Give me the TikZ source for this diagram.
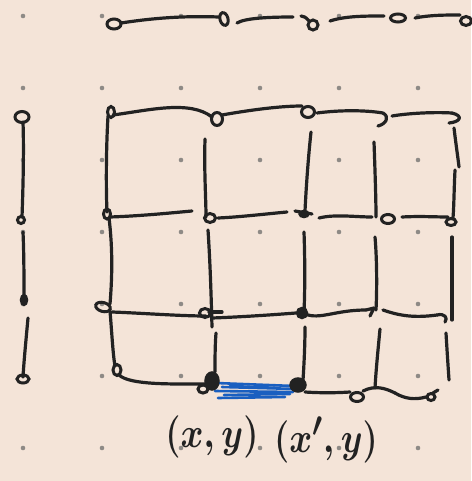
\documentclass[tikz,border=0pt]{standalone}
\usetikzlibrary{calc}
\definecolor{paper}{HTML}{F4E4D8}
\definecolor{inkc}{HTML}{222222}
\definecolor{dotc}{HTML}{8E8A86}
\definecolor{bluec}{HTML}{1A5FC0}
\newcommand{\biglabel}[1]{\scalebox{1.4}[1.7]{\Huge\boldmath #1}}
\tikzset{
  ink/.style={draw=inkc, line width=3.2pt, line cap=round, line join=round},
  loopmark/.style={draw=inkc, line width=3pt},
  blob/.style={fill=inkc, draw=inkc, line width=1.5pt},
  bluestroke/.style={draw=bluec, line width=2.6pt, line cap=round},
  griddot/.style={fill=dotc},
  coordlabel/.style={text=inkc, inner sep=0pt}
}
\begin{document}
\begin{tikzpicture}[x=1pt,y=-1pt]
  % paper and dotted grid
  \fill[paper] (0,0) rectangle (471,481);
  \useasboundingbox (0,0) rectangle (471,481);
  \foreach \gx in {23,102,181,260,339,418}
    \foreach \gy in {16,88,160,232,304,376,448}
      \fill[griddot] (\gx,\gy) circle (2.3);

  % top row of points
  \draw[loopmark] (114,24) ellipse (7 and 5);
  \draw[ink] (121,23) .. controls (160,17) and (190,16) .. (219,17);
  \draw[loopmark, rotate around={15:(224,19)}] (224,19) ellipse (4 and 6.5);
  \draw[ink] (237,23) .. controls (245,18) and (270,17) .. (293,17);
  \draw[loopmark] (313,25) circle (5);
  \draw[ink] (309,21) .. controls (306,17) and (303,16) .. (301,16);
  \draw[ink] (330,21) .. controls (345,16) and (365,16) .. (384,16);
  \draw[loopmark] (398,18) ellipse (7.5 and 4);
  \draw[ink] (415,18) .. controls (430,15) and (445,15) .. (460,15);
  \draw[loopmark] (466,21) ellipse (5.5 and 4.5);

  % left column of points
  \draw[loopmark] (22,117) ellipse (7 and 5.5);
  \draw[ink] (23,122) .. controls (24,150) and (23,190) .. (22,217);
  \draw[loopmark] (21,220) circle (3.5);
  \draw[ink] (23,232) .. controls (24,255) and (24,280) .. (24,296);
  \draw[blob] (24,300) ellipse (3.5 and 5.5);
  \draw[ink] (28,318) .. controls (26,340) and (24,360) .. (23,377);
  \draw[loopmark] (23,379) ellipse (6 and 4);

  % grid: row 1
  \draw[loopmark] (111,112) ellipse (3.5 and 5.5);
  \draw[ink] (113,115) .. controls (150,110) and (190,100) .. (212,117);
  \draw[loopmark] (217,119) ellipse (5.5 and 6.5);
  \draw[ink] (222,115) .. controls (250,110) and (280,106) .. (302,106);
  \draw[loopmark] (308,112) ellipse (6.5 and 5.5);
  \draw[ink] (317,113) .. controls (340,110) and (365,110) .. (383,113);
  \draw[ink] (383,113) .. controls (390,117) and (386,124) .. (378,126);
  \draw[ink] (392,116) .. controls (410,113) and (435,112) .. (452,113);
  \draw[ink] (452,113) .. controls (464,116) and (460,122) .. (449,123);

  % grid: row 2
  \draw[loopmark] (107,214) ellipse (3.5 and 5);
  \draw[ink] (110,217) .. controls (140,216) and (170,213) .. (192,211);
  \draw[loopmark] (210,218) ellipse (5.5 and 4.5);
  \draw[ink] (218,218) .. controls (240,217) and (265,214) .. (287,212);
  \draw[blob] (304,214) ellipse (5 and 3.5);
  \draw[ink] (295,211) -- (312,214);
  \draw[ink] (319,218) .. controls (335,214) and (355,217) .. (372,217);
  \draw[loopmark] (388,219) ellipse (6.5 and 4.5);
  \draw[ink] (402,217) .. controls (420,216) and (435,217) .. (448,217);
  \draw[loopmark] (451,222) ellipse (5 and 3.5);

  % grid: row 3
  \draw[loopmark, rotate around={-15:(103,307)}] (103,307) ellipse (7.5 and 4.5);
  \draw[ink] (112,312) .. controls (140,313) and (180,316) .. (206,316);
  \draw[loopmark] (205,313) ellipse (5.5 and 4.5);
  \draw[ink] (209,312) -- (222,312);
  \draw[ink] (212,318) .. controls (240,317) and (270,315) .. (296,313);
  \draw[blob] (302,313) ellipse (5.5 and 5.5);
  \draw[ink] (305,314) .. controls (320,320) and (335,310) .. (366,310);
  \draw[ink] (366,310) -- (374,308) -- (370,316);
  \draw[ink] (383,310) .. controls (400,316) and (415,318) .. (437,315);
  \draw[ink] (437,315) .. controls (445,313) and (448,318) .. (445,322);

  % grid: row 4
  \draw[loopmark] (117,370) ellipse (4 and 5.5);
  \draw[ink] (119,375) .. controls (130,385) and (170,384) .. (205,384);
  \draw[bluestroke] (216,383) -- (294,386);
  \draw[bluestroke] (222,387) -- (297,389);
  \draw[bluestroke] (215,391) -- (293,392);
  \draw[bluestroke] (224,395) -- (290,394);
  \draw[bluestroke] (218,398) -- (285,397);
  \draw[bluestroke] (230,386) -- (280,388);
  \draw[blob] (212,381) ellipse (7 and 9);
  \draw[loopmark] (203,389) ellipse (5 and 4);
  \draw[blob] (298,385) ellipse (8 and 7);
  \draw[ink] (305,392) .. controls (320,393) and (335,393) .. (350,392);
  \draw[loopmark] (357,397) ellipse (6.5 and 4.5);
  \draw[ink] (363,391) .. controls (375,385) and (385,388) .. (395,393);
  \draw[ink] (395,393) .. controls (405,399) and (415,400) .. (426,397);
  \draw[loopmark] (431,397) ellipse (4 and 3.5);
  \draw[ink] (433,393) -- (438,390);

  % grid: vertical strokes
  \draw[ink] (108,116) .. controls (106,150) and (106,190) .. (107,212);
  \draw[ink] (109,218) .. controls (113,250) and (112,280) .. (110,304);
  \draw[ink] (110,311) .. controls (112,335) and (113,355) .. (115,366);

  \draw[ink] (205,139) .. controls (204,170) and (206,200) .. (206,217);
  \draw[ink] (208,230) .. controls (210,260) and (211,290) .. (212,327);
  \draw[ink] (216,333) .. controls (215,345) and (215,360) .. (215,372);

  \draw[ink] (311,132) .. controls (308,160) and (306,190) .. (305,211);
  \draw[ink] (304,232) .. controls (305,260) and (305,290) .. (304,312);
  \draw[ink] (305,327) .. controls (305,345) and (304,365) .. (303,380);

  \draw[ink] (374,142) .. controls (375,170) and (376,200) .. (376,217);
  \draw[ink] (375,237) .. controls (377,260) and (377,290) .. (376,310);
  \draw[ink] (380,329) .. controls (378,350) and (376,370) .. (375,388);

  \draw[ink] (454,128) .. controls (456,145) and (458,158) .. (459,167);
  \draw[ink] (455,170) .. controls (454,190) and (454,205) .. (453,218);
  \draw[ink] (452,237) .. controls (452,265) and (452,295) .. (452,320);
  \draw[ink] (446,333) .. controls (447,350) and (448,365) .. (449,380);

  % coordinate labels under the highlighted edge
  \node[coordlabel] (lab1) at (212,437) {\biglabel{$(x,y)$}};
  \node[coordlabel] (lab2) at (326,440) {\biglabel{$(x',y)$}};
\end{tikzpicture}
\end{document}
